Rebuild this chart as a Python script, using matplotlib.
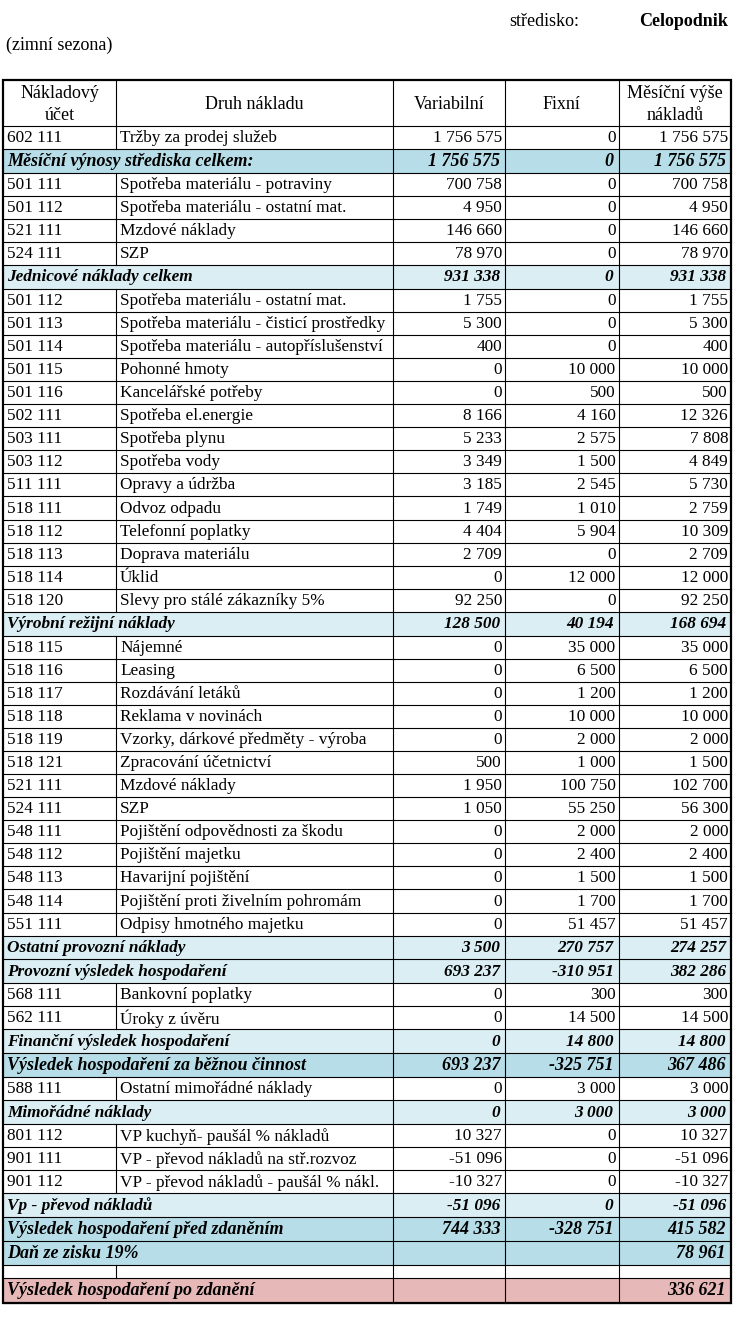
import matplotlib.pyplot as plt
from matplotlib.patches import Rectangle

plt.rcParams['font.family'] = ['Liberation Serif', 'DejaVu Serif']

# --- data -------------------------------------------------------------
header = ["Nákladový\núčet", "Druh nákladu", "Variabilní", "Fixní", "Měsíční výše\nnákladů"]

accounts = ["602 111", "", "501 111", "501 112", "521 111", "524 111", "",
            "501 112", "501 113", "501 114", "501 115", "501 116", "502 111",
            "503 111", "503 112", "511 111", "518 111", "518 112", "518 113",
            "518 114", "518 120", "",
            "518 115", "518 116", "518 117", "518 118", "518 119", "518 121",
            "521 111", "524 111", "548 111", "548 112", "548 113", "548 114",
            "551 111", "", "", "568 111", "562 111", "", "", "588 111", "",
            "801 112", "901 111", "901 112", "", "", "", "", ""]

names = ["Tržby za prodej služeb", "Měsíční výnosy střediska celkem:",
         "Spotřeba materiálu - potraviny", "Spotřeba materiálu - ostatní mat.",
         "Mzdové náklady", "SZP", "Jednicové náklady celkem",
         "Spotřeba materiálu - ostatní mat.", "Spotřeba materiálu - čisticí prostředky",
         "Spotřeba materiálu - autopříslušenství", "Pohonné hmoty",
         "Kancelářské potřeby", "Spotřeba el.energie", "Spotřeba plynu",
         "Spotřeba vody", "Opravy a údržba", "Odvoz odpadu", "Telefonní poplatky",
         "Doprava materiálu", "Úklid", "Slevy pro stálé zákazníky 5%",
         "Výrobní režijní náklady",
         "Nájemné", "Leasing", "Rozdávání letáků", "Reklama v novinách",
         "Vzorky, dárkové předměty - výroba", "Zpracování účetnictví",
         "Mzdové náklady", "SZP", "Pojištění odpovědnosti za škodu",
         "Pojištění majetku", "Havarijní pojištění",
         "Pojištění proti živelním pohromám", "Odpisy hmotného majetku",
         "Ostatní provozní náklady", "Provozní výsledek hospodaření",
         "Bankovní poplatky", "Úroky z úvěru", "Finanční výsledek hospodaření",
         "Výsledek hospodaření za běžnou činnost", "Ostatní mimořádné náklady",
         "Mimořádné náklady", "VP kuchyň- paušál % nákladů",
         "VP - převod nákladů na stř.rozvoz", "VP - převod nákladů - paušál % nákl.",
         "Vp - převod nákladů", "Výsledek hospodaření před zdaněním",
         "Daň ze zisku 19%", "", "Výsledek hospodaření po zdanění"]

variable = [1756575, 1756575, 700758, 4950, 146660, 78970, 931338,
            1755, 5300, 400, 0, 0, 8166, 5233, 3349, 3185, 1749, 4404, 2709,
            0, 92250, 128500,
            0, 0, 0, 0, 0, 500, 1950, 1050, 0, 0, 0, 0, 0,
            3500, 693237, 0, 0, 0, 693237, 0, 0,
            10327, -51096, -10327, -51096, 744333, None, None, None]

fixed = [0, 0, 0, 0, 0, 0, 0,
         0, 0, 0, 10000, 500, 4160, 2575, 1500, 2545, 1010, 5904, 0,
         12000, 0, 40194,
         35000, 6500, 1200, 10000, 2000, 1000, 100750, 55250, 2000, 2400,
         1500, 1700, 51457,
         270757, -310951, 300, 14500, 14800, -325751, 3000, 3000,
         0, 0, 0, 0, -328751, None, None, None]

monthly = [1756575, 1756575, 700758, 4950, 146660, 78970, 931338,
           1755, 5300, 400, 10000, 500, 12326, 7808, 4849, 5730, 2759, 10309,
           2709, 12000, 92250, 168694,
           35000, 6500, 1200, 10000, 2000, 1500, 102700, 56300, 2000, 2400,
           1500, 1700, 51457,
           274257, 382286, 300, 14500, 14800, 367486, 3000, 3000,
           10327, -51096, -10327, -51096, 415582, 78961, None, 336621]

# row kind: item / sub (section total) / total (main result) / blank / final
kinds = ["item", "total"] + ["item"] * 4 + ["sub"] + ["item"] * 14 + ["sub"] \
    + ["item"] * 13 + ["sub", "sub", "item", "item", "sub", "total", "item",
                       "sub", "item", "item", "item", "sub", "total", "total",
                       "blank", "final"]

# --- layout -----------------------------------------------------------
W, H = 749, 1321
col_edges = [3, 116, 392.5, 505, 618.5, 731]
table_top = 79.5
header_h = 46.3
heights = {"item": 23.07, "sub": 23.86, "total": 23.86, "blank": 13.3, "final": 24.4}
fills = {"sub": "#DAEEF3", "total": "#B7DEE8", "final": "#E6B8B7"}
fs = 12.4       # body text
fs_head = 13.0  # header and title
fs_big = 13.0   # main result rows


def fmt(v):
    if v is None:
        return ""
    return f"{v:,}".replace(",", " ")


fig = plt.figure(figsize=(W / 100, H / 100), dpi=100)
ax = fig.add_axes([0, 0, 1, 1])
ax.set_xlim(0, W)
ax.set_ylim(H, 0)
ax.axis("off")

# title texts
ax.text(509, 22, "středisko:", fontsize=fs_head, va="center", ha="left")
ax.text(728, 22, "Celopodnik", fontsize=fs_head, va="center", ha="right",
        fontweight="bold")
ax.text(6, 45, "(zimní sezona)", fontsize=fs_head, va="center", ha="left")

lw = 0.8
x0, x1 = col_edges[0], col_edges[-1]

# header
y = table_top
for i, h in enumerate(header):
    cx = (col_edges[i] + col_edges[i + 1]) / 2
    ax.text(cx, y + header_h / 2 + 1.5, h, fontsize=fs_head, ha="center", va="center",
            linespacing=1.4)
for e in col_edges[1:-1]:
    ax.plot([e, e], [y, y + header_h], color="black", lw=lw)
y += header_h
ax.plot([x0, x1], [y, y], color="black", lw=lw)

for acc, name, v, f, m, kind in zip(accounts, names, variable, fixed, monthly, kinds):
    h = heights[kind]
    if kind in fills:
        ax.add_patch(Rectangle((x0, y), x1 - x0, h, facecolor=fills[kind],
                               edgecolor="none", zorder=0))
    cy = y + h / 2 + 0.5
    # vertical lines
    for j, e in enumerate(col_edges[1:-1], start=1):
        if j == 1 and kind in ("sub", "total", "final"):
            continue
        ax.plot([e, e], [y, y + h], color="black", lw=lw)
    if kind == "item":
        ax.text(col_edges[0] + 4, cy, acc, fontsize=fs, va="center", ha="left")
        ax.text(col_edges[1] + 4, cy, name, fontsize=fs, va="center", ha="left")
        for j, val in enumerate([v, f, m]):
            ax.text(col_edges[j + 3] - 3, cy, fmt(val), fontsize=fs,
                    va="center", ha="right")
    elif kind != "blank":
        size = fs if kind == "sub" else fs_big
        ax.text(col_edges[0] + 4, cy, name, fontsize=size, va="center", ha="left",
                fontweight="bold", fontstyle="italic")
        for j, val in enumerate([v, f, m]):
            ax.text(col_edges[j + 3] - 5, cy, fmt(val), fontsize=size,
                    va="center", ha="right", fontweight="bold", fontstyle="italic")
    y += h
    ax.plot([x0, x1], [y, y], color="black", lw=lw)

# outer border
ax.add_patch(Rectangle((x0, table_top), x1 - x0, y - table_top, facecolor="none",
                       edgecolor="black", lw=1.6, zorder=5))

fig.savefig("out.png", dpi=100)
